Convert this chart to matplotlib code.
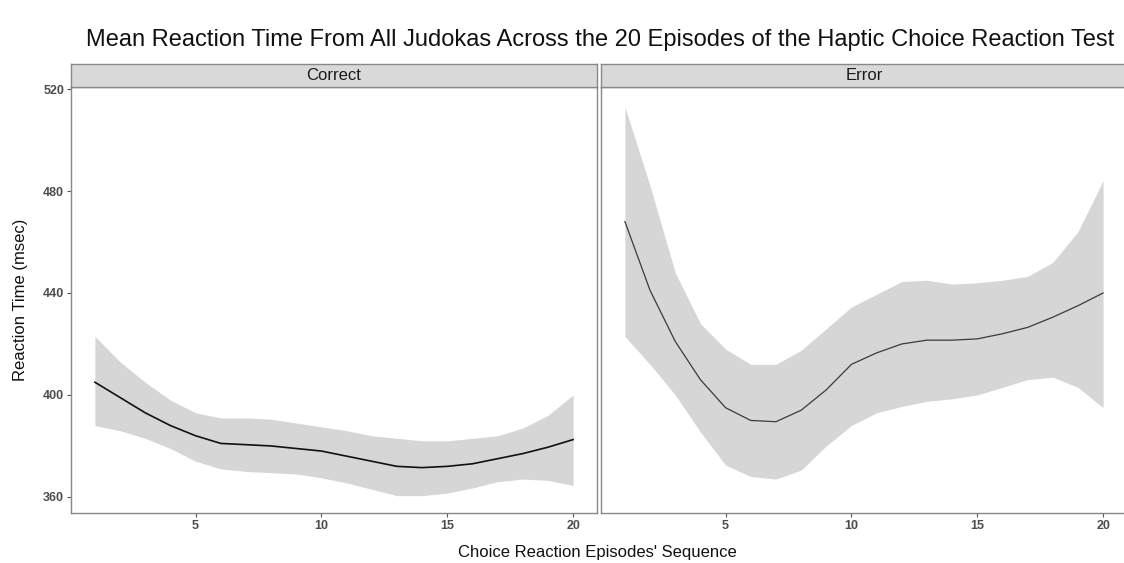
"""Two-panel smooth curve (ggplot facet look) of mean reaction time per episode."""
import matplotlib
matplotlib.use("Agg")
import matplotlib.pyplot as plt

plt.rcParams["font.family"] = ["Liberation Sans", "DejaVu Sans"]

episodes = list(range(1, 21))

correct_mean = [405, 399, 393, 388, 384, 381, 380.5, 380, 379, 378,
                376, 374, 372, 371.5, 372, 373, 375, 377, 379.5, 382.5]
correct_low = [388, 386, 383, 379, 374, 371, 370, 369.5, 369, 367.5,
               365.5, 363, 360.5, 360.5, 361.5, 363.5, 366, 367, 366.5, 364.5]
correct_high = [423, 413, 405, 398, 393, 391, 391, 390.5, 389, 387.5,
                386, 384, 383, 382, 382, 383, 384, 387, 392, 400]

error_mean = [468, 441, 421, 406, 395, 390, 389.5, 394, 402, 412,
              416.5, 420, 421.5, 421.5, 422, 424, 426.5, 430.5, 435, 440]
error_low = [423, 412, 400, 385.5, 372.5, 368, 367, 370.5, 380, 388,
             393, 395.5, 397.5, 398.5, 400, 403, 406, 407, 403, 395]
error_high = [513, 482, 448, 428, 418, 412, 412, 417.5, 426, 434.5,
              439.5, 444.5, 445, 443.5, 444, 445, 446.5, 452, 464, 484]

panels = [("Correct", correct_mean, correct_low, correct_high, "#111111", 1.2),
          ("Error", error_mean, error_low, error_high, "#3a3a3a", 0.9)]

W, H = 1124, 563
fig = plt.figure(figsize=(W / 100, H / 100), dpi=100)

lefts = [71, 601]
pw = 526
top, bottom = 87, 513

for i, (name, mean, low, high, lc, lw) in enumerate(panels):
    ax = fig.add_axes([lefts[i] / W, 1 - bottom / H, pw / W, (bottom - top) / H])
    ax.fill_between(episodes, low, high, color="#d6d6d6", linewidth=0)
    ax.plot(episodes, mean, color=lc, linewidth=lw)
    ax.set_xlim(0.05, 20.95)
    ax.set_ylim(353.7, 520.8)
    ax.set_xticks([5, 10, 15, 20])
    ax.set_yticks([360, 400, 440, 480, 520])
    ax.tick_params(length=3, width=0.8, color="#555555", labelsize=9,
                   labelcolor="#4d4d4d", pad=2)
    for lab in ax.get_xticklabels() + ax.get_yticklabels():
        lab.set_fontweight("bold")
    if i == 1:
        ax.tick_params(axis="y", left=False, labelleft=False)
    for sp in ax.spines.values():
        sp.set_color("#888888")
        sp.set_linewidth(1.0)

    strip = fig.add_axes([lefts[i] / W, 1 - top / H, pw / W, 23 / H])
    strip.set_facecolor("#d9d9d9")
    strip.set_xticks([])
    strip.set_yticks([])
    for sp in strip.spines.values():
        sp.set_color("#888888")
        sp.set_linewidth(1.0)
    strip.text(0.5, 0.48, name, ha="center", va="center", fontsize=12,
               color="#1a1a1a", transform=strip.transAxes)

fig.text(600 / W, 1 - 40 / H,
         "Mean Reaction Time From All Judokas Across the 20 Episodes of the Haptic Choice Reaction Test",
         ha="center", va="center", fontsize=17, color="#111111")
fig.text(597 / W, 1 - 553 / H, "Choice Reaction Episodes' Sequence",
         ha="center", va="center", fontsize=12, color="#111111")
fig.text(20 / W, 1 - 300 / H, "Reaction Time (msec)", rotation=90,
         ha="center", va="center", fontsize=12, color="#111111")

fig.savefig("out.png", dpi=100)
